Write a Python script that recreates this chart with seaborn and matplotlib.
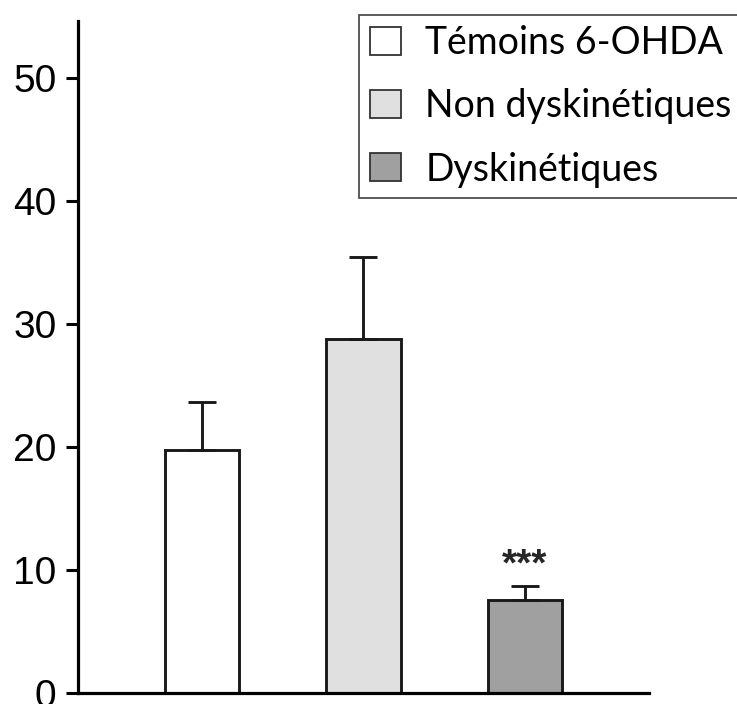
import matplotlib
matplotlib.use("Agg")
import matplotlib.pyplot as plt
from matplotlib.patches import Patch
import seaborn as sns
import pandas as pd

# values
groups = ["Témoins 6-OHDA", "Non dyskinétiques", "Dyskinétiques"]
means = [19.8, 28.8, 7.6]
sem = [3.9, 6.7, 1.1]
colors = ["#ffffff", "#e1e0e1", "#a0a0a0"]
y_ticks = [0, 10, 20, 30, 40, 50]
signif = ["", "", "***"]

df = pd.DataFrame({"group": groups, "mean": means, "sem": sem})

sns.set_style("white")
plt.rcParams["font.family"] = ["Liberation Sans", "DejaVu Sans"]

fig = plt.figure(figsize=(7.37, 7.04), dpi=100)
ax = fig.add_axes([78 / 737, 10.7 / 704, 570.5 / 737, 672.3 / 704])

sns.barplot(data=df, x="group", y="mean", hue="group", order=groups,
            hue_order=groups, palette=colors, errorbar=None, width=0.464,
            edgecolor="#1a1a1a", linewidth=2.1, legend=False, ax=ax)

# upper-only SEM bars
ax.errorbar(range(len(groups)), df["mean"], yerr=[[0] * len(groups), df["sem"]],
            fmt="none", ecolor="#1a1a1a", elinewidth=2.1, capsize=10,
            capthick=2.1, zorder=1)

for i, (m, s, lab) in enumerate(zip(means, sem, signif)):
    if lab:
        ax.text(i, m + s + 0.85, lab, ha="center", va="baseline",
                fontsize=28, fontweight="bold")

ax.set_xlim(-0.768, 2.765)
ax.set_ylim(0, 54.66)
ax.set_yticks(y_ticks)
ax.set_xticks([])
ax.set_xlabel("")
ax.set_ylabel("")
ax.tick_params(axis="y", labelsize=28, length=8.6, width=2.2, pad=7,
               left=True, colors="#000000")
sns.despine(ax=ax)
for side in ["left", "bottom"]:
    ax.spines[side].set_linewidth(2.3)
    ax.spines[side].set_color("#000000")

handles = [Patch(facecolor=c, edgecolor="#333333", linewidth=1.3) for c in colors]
leg = ax.legend(handles, groups, loc="upper left",
                bbox_to_anchor=(359 / 737, 1 - 15 / 704),
                bbox_transform=fig.transFigure,
                prop={"family": ["Lato", "DejaVu Sans"], "size": 27},
                labelcolor="#000000",
                frameon=True, fancybox=False, edgecolor="#222222",
                handlelength=0.83, handleheight=0.77, handletextpad=0.66,
                labelspacing=0.72, borderpad=0.28, borderaxespad=0)
leg.get_frame().set_linewidth(1.3)

fig.savefig("out.png", dpi=100)
